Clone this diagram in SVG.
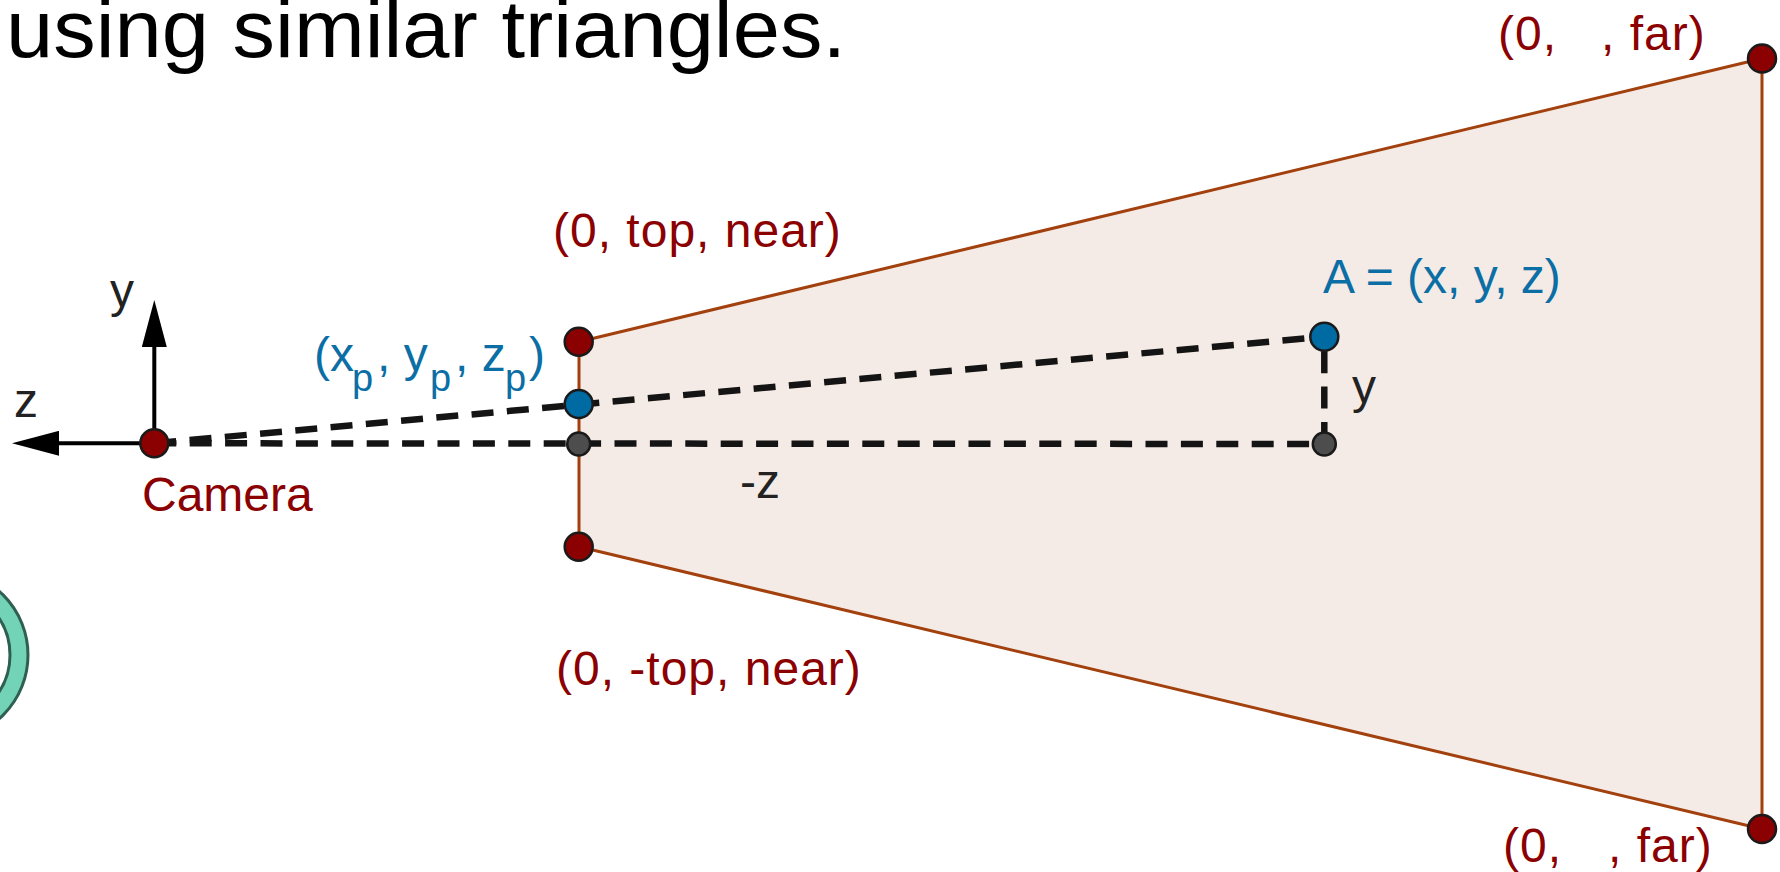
<svg xmlns="http://www.w3.org/2000/svg" width="1780" height="872" viewBox="0 0 1780 872">
<defs>
<style>
text{font-family:"Liberation Sans",Arial,Helvetica,sans-serif;}
.lbl{font-size:48px;}
.coord{letter-spacing:1px;}
.red{fill:#8b0000;}
.blue{fill:#0b6ea5;}
.dark{fill:#222222;}
.pt-red{fill:#8b0000;stroke:#1a1a1a;stroke-width:2.5;}
.pt-blue{fill:#006aa3;stroke:#1a1a1a;stroke-width:2.5;}
.pt-gray{fill:#4d4d4d;stroke:#1a1a1a;stroke-width:2.5;}
.dash{stroke:#141414;stroke-width:6.5;stroke-dasharray:22 13.4;fill:none;}
.axis{stroke:#000000;stroke-width:4;fill:none;}
.face{fill:#f5ebe6;stroke:#a3410e;stroke-width:3;stroke-linejoin:round;}
</style>
<marker id="arrowhead" viewBox="0 0 47 25" refX="0" refY="12.5" markerWidth="47" markerHeight="25" markerUnits="userSpaceOnUse" orient="auto">
<path d="M0,0 L47,12.5 L0,25 Z" fill="#000000"/>
</marker>
</defs>
<rect x="0" y="0" width="1780" height="872" fill="#ffffff"/>

<g id="title">
<text x="6" y="57" font-size="82" fill="#000000" textLength="840" lengthAdjust="spacingAndGlyphs">using similar triangles.</text>
</g>

<g id="ring">
<circle cx="-57" cy="655" r="76" fill="none" stroke="#2f5f50" stroke-width="21"/>
<circle cx="-57" cy="655" r="76" fill="none" stroke="#72d3b7" stroke-width="15"/>
</g>

<g id="frustum">
<polygon class="face" points="579,341.7 1762,58.5 1762,829 579,546.7"/>
</g>

<g id="connectors">
<line class="dash" x1="154.3" y1="443.3" x2="1324.3" y2="444"/>
<line class="dash" x1="154.3" y1="443.3" x2="1324.3" y2="336.7"/>
<line class="dash" x1="1324.3" y1="444" x2="1324.3" y2="336.7"/>
<line class="axis" x1="154.3" y1="443.3" x2="59" y2="443.3" marker-end="url(#arrowhead)"/>
<line class="axis" x1="154.3" y1="443.3" x2="154.3" y2="347" marker-end="url(#arrowhead)"/>
</g>

<g id="axis-labels">
<text class="lbl dark" x="110" y="307">y</text>
<text class="lbl dark" x="14" y="417">z</text>
</g>

<g id="camera">
<circle class="pt-red" cx="154.3" cy="443.3" r="14"/>
<text class="lbl red" x="142" y="511">Camera</text>
</g>

<g id="near-top">
<circle class="pt-red" cx="578.7" cy="341.7" r="14"/>
<text class="lbl red coord" x="553" y="247">(0, top, near)</text>
</g>

<g id="near-projection">
<circle class="pt-blue" cx="578.7" cy="404" r="14"/>
<text class="lbl blue" y="371"><tspan x="314">(x</tspan><tspan x="352" dy="20" font-size="38">p</tspan><tspan x="377" dy="-20">, y</tspan><tspan x="430" dy="20" font-size="38">p</tspan><tspan x="455" dy="-20">, z</tspan><tspan x="505" dy="20" font-size="38">p</tspan><tspan x="529" dy="-20">)</tspan></text>
</g>

<g id="near-center">
<circle class="pt-gray" cx="578.7" cy="444" r="11.5"/>
</g>

<g id="near-bottom">
<circle class="pt-red" cx="578.7" cy="546.7" r="14"/>
<text class="lbl red coord" x="556" y="685">(0, -top, near)</text>
</g>

<g id="far-top">
<circle class="pt-red" cx="1762" cy="58.5" r="14"/>
<text class="lbl red coord" y="50"><tspan x="1498">(0,</tspan><tspan x="1601">, far)</tspan></text>
</g>

<g id="far-bottom">
<circle class="pt-red" cx="1762" cy="829" r="14"/>
<text class="lbl red coord" y="862"><tspan x="1503">(0,</tspan><tspan x="1608">, far)</tspan></text>
</g>

<g id="point-A">
<circle class="pt-blue" cx="1324.3" cy="336.7" r="14"/>
<text class="lbl blue" x="1323" y="293">A = (x, y, z)</text>
</g>

<g id="point-A-foot">
<circle class="pt-gray" cx="1324.3" cy="444" r="11.5"/>
</g>

<g id="segment-labels">
<text class="lbl dark" x="1352" y="403">y</text>
<text class="lbl dark" x="740" y="498">-z</text>
</g>
</svg>
